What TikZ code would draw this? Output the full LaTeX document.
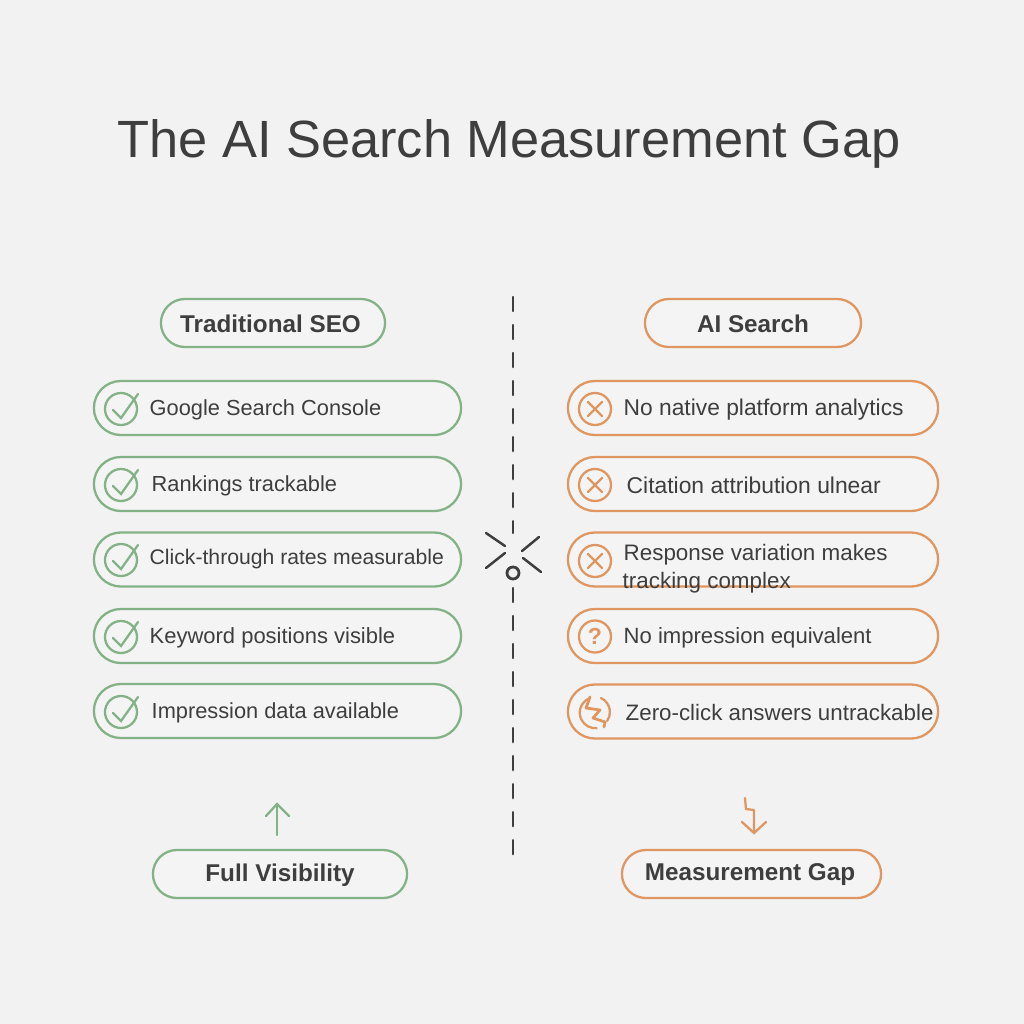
\documentclass[tikz,border=0pt]{standalone}
\usepackage{fontspec}
\setmainfont{Liberation Sans}
\usetikzlibrary{arrows.meta, positioning, shapes.misc}

\begin{document}
\begin{tikzpicture}[x=0.01cm, y=-0.01cm, line cap=round]

  % Colors
  \definecolor{pagegray}{RGB}{242,242,242}
  \definecolor{softgreen}{RGB}{131,178,135}
  \definecolor{softorange}{RGB}{224,150,96}
  \definecolor{inkgray}{RGB}{62,62,62}

  % Styles
  \tikzset{
    pill/.style={rounded rectangle, draw=#1, line width=0.65pt, fill=pagegray!85!white, inner sep=0pt},
    itempill/.style={pill=#1, minimum height=0.54cm},
    headpill/.style={pill=#1, minimum height=0.48cm},
    ring/.style={circle, draw=#1, line width=0.65pt, minimum size=0.32cm, inner sep=0pt},
    itemtext/.style={anchor=west, inner sep=0pt, yshift=-0.015cm, text=inkgray, font=\fontsize{#1}{8pt}\selectfont},
    headtext/.style={text=inkgray, inner sep=0pt, yshift=-0.01cm, font=\fontsize{6.9pt}{8pt}\selectfont\bfseries},
    mark/.style={draw=#1, line width=0.65pt}
  }

  % Background
  \fill[pagegray] (0,0) rectangle (1024,1024);

  % Title
  \node[text=inkgray, inner sep=0pt, font=\fontsize{14.9pt}{16pt}\selectfont] (title) at (509,144) {The AI Search Measurement Gap};

  % Column heads
  \node[headpill=softgreen, minimum width=2.24cm] (seohead) at (273,323) {};
  \node[headtext] (seolabel) at (270.5,323) {Traditional SEO};
  \node[headpill=softorange, minimum width=2.16cm] (aihead) at (753,323) {};
  \node[headtext] (ailabel) at (753,323) {AI Search};

  % Traditional SEO rows
  \node[itempill=softgreen, minimum width=3.67cm] (seoa) at (277.5,408) {};
  \node[itempill=softgreen, minimum width=3.67cm] (seob) at (277.5,484) {};
  \node[itempill=softgreen, minimum width=3.67cm] (seoc) at (277.5,559.5) {};
  \node[itempill=softgreen, minimum width=3.67cm] (seod) at (277.5,636) {};
  \node[itempill=softgreen, minimum width=3.67cm] (seoe) at (277.5,711) {};
  \node[itemtext=6.2pt] (seoatext) at (149,408) {Google Search Console};
  \node[itemtext=6.2pt] (seobtext) at (151,484) {Rankings trackable};
  \node[itemtext=6.02pt] (seoctext) at (149,558) {Click-through rates measurable};
  \node[itemtext=6.25pt] (seodtext) at (149,636) {Keyword positions visible};
  \node[itemtext=6.2pt] (seoetext) at (151,711) {Impression data available};

  % Check icons
  \node[ring=softgreen] (chka) at (121,409) {};
  \node[ring=softgreen] (chkb) at (121,485) {};
  \node[ring=softgreen] (chkc) at (121,560) {};
  \node[ring=softgreen] (chkd) at (121,637) {};
  \node[ring=softgreen] (chke) at (121,712) {};
  \draw[mark=softgreen] (113,410) -- (121,418) -- (138,394);
  \draw[mark=softgreen] (113,486) -- (121,494) -- (138,470);
  \draw[mark=softgreen] (113,561) -- (121,569) -- (138,545);
  \draw[mark=softgreen] (113,638) -- (121,646) -- (138,622);
  \draw[mark=softgreen] (113,713) -- (121,721) -- (138,697);

  % AI Search rows
  \node[itempill=softorange, minimum width=3.70cm] (aia) at (753,408) {};
  \node[itempill=softorange, minimum width=3.70cm] (aib) at (753,484) {};
  \node[itempill=softorange, minimum width=3.70cm] (aic) at (753,559.5) {};
  \node[itempill=softorange, minimum width=3.70cm] (aid) at (753,636) {};
  \node[itempill=softorange, minimum width=3.70cm] (aie) at (753,711.5) {};
  \node[itemtext=6.48pt] (aiatext) at (623,408) {No native platform analytics};
  \node[itemtext=6.5pt] (aibtext) at (626,484) {Citation attribution ulnear};
  \node[itemtext=6.37pt] (aictext) at (623,553) {Response variation makes};
  \node[itemtext=6.37pt] (aictexttwo) at (622,581) {tracking complex};
  \node[itemtext=6.28pt] (aidtext) at (623,636) {No impression equivalent};
  \node[itemtext=6.35pt] (aietext) at (625,711) {Zero-click answers untrackable};

  % Cross icons
  \node[ring=softorange] (crossa) at (595,409) {};
  \node[ring=softorange] (crossb) at (595,485) {};
  \node[ring=softorange] (crossc) at (595,561) {};
  \draw[mark=softorange] (588,402) -- (602,416) (602,402) -- (588,416);
  \draw[mark=softorange] (588,478) -- (602,492) (602,478) -- (588,492);
  \draw[mark=softorange] (588,554) -- (602,568) (602,554) -- (588,568);

  % Question icon
  \node[ring=softorange, text=softorange, font=\fontsize{6.6pt}{7pt}\selectfont\bfseries] (askicon) at (595,636.5) {?};

  % Bolt icon
  \draw[mark=softorange] (588,699) arc (242:85:15.5);
  \draw[mark=softorange] (601,698) arc (-65:35:15.5);
  \draw[mark=softorange, line width=0.8pt, line join=round] (590,697) -- (586,708) -- (600,710) -- (593,718) -- (605,722) -- (604,727);

  % Divider
  \draw[inkgray, line width=0.7pt, dash pattern=on 0.14cm off 0.14cm] (513,297) -- (513,533);
  \draw[inkgray, line width=0.7pt, dash pattern=on 0.14cm off 0.14cm] (513,588) -- (513,857);

  % Break mark on the divider
  \node[circle, draw=inkgray, line width=0.8pt, minimum size=0.12cm, inner sep=0pt] (gapdot) at (513,573) {};
  \draw[inkgray, line width=0.7pt] (486,533) -- (505,546);
  \draw[inkgray, line width=0.7pt] (539,537) -- (522,551);
  \draw[inkgray, line width=0.7pt] (486,568) -- (505,553);
  \draw[inkgray, line width=0.7pt] (541,572) -- (523,558);

  % Bottom pills
  \node[headpill=softgreen, minimum width=2.54cm] (fullpill) at (280,874) {};
  \node[headtext] (fulllabel) at (280,874) {Full Visibility};
  \node[headpill=softorange, minimum width=2.59cm] (gappill) at (751.5,874) {};
  \node[headtext] (gaplabel) at (750,874) {Measurement Gap};

  % Arrows above the bottom pills
  \coordinate (fulltail) at (277,835);
  \coordinate (fulltip) at (277,804);
  \draw[mark=softgreen] (fulltail) -- (fulltip);
  \draw[mark=softgreen] (266,816) -- (fulltip) -- (289,816);
  \coordinate (gaptail) at (745,798);
  \coordinate (gaptip) at (754,833);
  \draw[mark=softorange, line join=round] (gaptail) -- (746,809) -- (754,810) -- (gaptip);
  \draw[mark=softorange] (742,822) -- (gaptip) -- (766,822);

\end{tikzpicture}
\end{document}
